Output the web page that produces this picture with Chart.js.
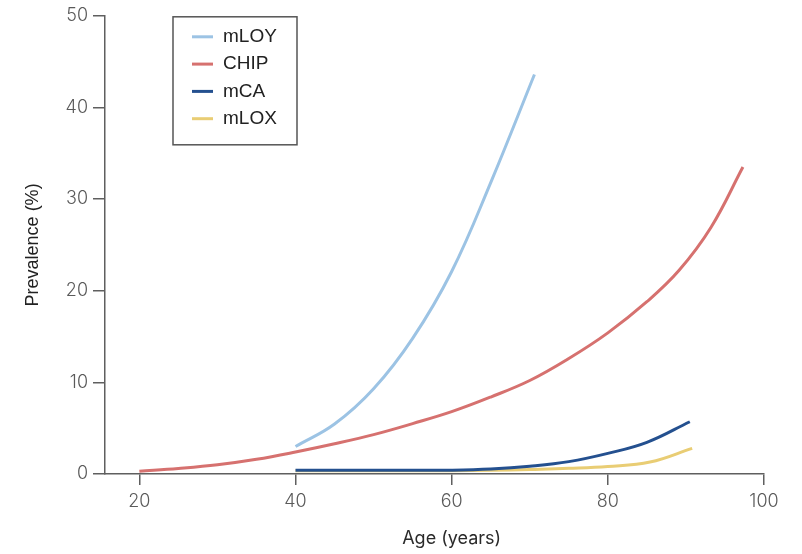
<!DOCTYPE html>
<html>
<head>
<meta charset="utf-8">
<script src="https://cdn.jsdelivr.net/npm/chart.js@4.4.1/dist/chart.umd.min.js"></script>
<style>
  html, body { margin: 0; padding: 0; background: #ffffff; }
  #c { display: block; }
</style>
</head>
<body>
<canvas id="c" width="802" height="554"></canvas>
<script>
// ---- data ----
const seriesLabels = ['mLOY', 'CHIP', 'mCA', 'mLOX'];

const agesMLOY = [40, 45, 50, 55, 60, 65, 70.6];
const valsMLOY = [3.0, 5.45, 9.3, 14.8, 22.1, 31.8, 43.6];

const agesCHIP = [20, 25, 30, 35, 40, 45, 50, 55, 60, 65, 70, 75, 80, 85, 89.1, 93.2, 97.3];
const valsCHIP = [0.3, 0.6, 1.0, 1.6, 2.4, 3.3, 4.3, 5.5, 6.8, 8.4, 10.2, 12.6, 15.4, 18.8, 22.2, 26.9, 33.5];

const agesMCA = [40, 45, 50, 55, 60, 65, 70, 75, 80, 85, 90.5];
const valsMCA = [0.4, 0.4, 0.4, 0.4, 0.42, 0.55, 0.85, 1.35, 2.25, 3.45, 5.7];

const agesMLOX = [40, 45, 50, 55, 60, 65, 70, 75, 80, 85.4, 90.8];
const valsMLOX = [0.35, 0.35, 0.35, 0.35, 0.36, 0.4, 0.5, 0.62, 0.82, 1.3, 2.8];

const xTicks = [20, 40, 60, 80, 100];
const yTicks = [0, 10, 20, 30, 40, 50];
const xTitle = 'Age (years)';
const yTitle = 'Prevalence (%)';

const colors = ['#9cc3e4', '#d6716f', '#24508f', '#e9cd74'];

function pts(ages, vals) { return ages.map((a, i) => ({ x: a, y: vals[i] })); }

const seriesData = [pts(agesMLOY, valsMLOY), pts(agesCHIP, valsCHIP), pts(agesMCA, valsMCA), pts(agesMLOX, valsMLOX)];

const datasets = seriesLabels.map((lab, i) => ({
  label: lab,
  data: seriesData[i],
  borderColor: colors[i],
  backgroundColor: colors[i],
  borderWidth: 3,
  pointRadius: 0,
  pointHoverRadius: 0,
  fill: false,
  tension: 0.4,
  borderCapStyle: 'butt'
}));

const axisColor = '#5f5f5f';
const tickFont = { family: 'Inter', size: 18, weight: 300 };

const overlay = {
  id: 'overlay',
  afterDraw(chart) {
    const ctx = chart.ctx;
    const xs = chart.scales.x;
    const ca = chart.chartArea;
    ctx.save();
    // x axis title centred on the labelled tick range
    const cx = (xs.getPixelForValue(xTicks[0]) + xs.getPixelForValue(xTicks[xTicks.length - 1])) / 2;
    ctx.font = '400 18px Inter';
    ctx.fillStyle = '#2a2a2a';
    ctx.textAlign = 'center';
    ctx.textBaseline = 'middle';
    ctx.fillText(xTitle, cx, 539);

    // legend box
    const bx = ca.left + 68, by = ca.top + 1, bw = 124, bh = 128;
    ctx.strokeStyle = '#555555';
    ctx.lineWidth = 1.5;
    ctx.strokeRect(bx, by, bw, bh);
    ctx.font = '19px "Liberation Sans", Arial, sans-serif';
    ctx.textAlign = 'left';
    chart.data.datasets.forEach((ds, i) => {
      const yy = by + 20 + i * 27.3;
      ctx.strokeStyle = ds.borderColor;
      ctx.lineWidth = 3;
      ctx.beginPath();
      ctx.moveTo(bx + 19, yy);
      ctx.lineTo(bx + 40, yy);
      ctx.stroke();
      ctx.fillStyle = '#222222';
      ctx.fillText(ds.label, bx + 50, yy);
    });
    ctx.restore();
  }
};

new Chart(document.getElementById('c'), {
  type: 'line',
  data: { datasets },
  options: {
    responsive: false,
    animation: false,
    events: [],
    layout: { padding: { top: 13, right: 38, left: 0, bottom: 0 } },
    plugins: { legend: { display: false }, tooltip: { enabled: false }, title: { display: false } },
    scales: {
      x: {
        type: 'linear',
        min: 15.6,
        max: 100,
        afterBuildTicks: s => { s.ticks = xTicks.map(v => ({ value: v })); },
        afterFit: s => { s.height = 80; },
        border: { display: true, color: axisColor, width: 1.5 },
        grid: { display: true, drawOnChartArea: false, drawTicks: true, tickLength: 11, color: axisColor, lineWidth: 1.5 },
        ticks: { font: tickFont, color: '#5a5a5a', padding: 6, maxRotation: 0, autoSkip: false }
      },
      y: {
        type: 'linear',
        min: 0,
        max: 50,
        afterBuildTicks: s => { s.ticks = yTicks.map(v => ({ value: v })); },
        afterFit: s => { s.width = 105; },
        border: { display: true, color: axisColor, width: 1.5 },
        grid: { display: true, drawOnChartArea: false, drawTicks: true, tickLength: 12, color: axisColor, lineWidth: 1.5 },
        ticks: { font: tickFont, color: '#5a5a5a', padding: 5 },
        title: { display: true, text: yTitle, font: { family: 'Liberation Sans', size: 18 }, color: '#222222', padding: { top: 22, bottom: 0 } }
      }
    }
  },
  plugins: [overlay]
});
</script>
</body>
</html>
